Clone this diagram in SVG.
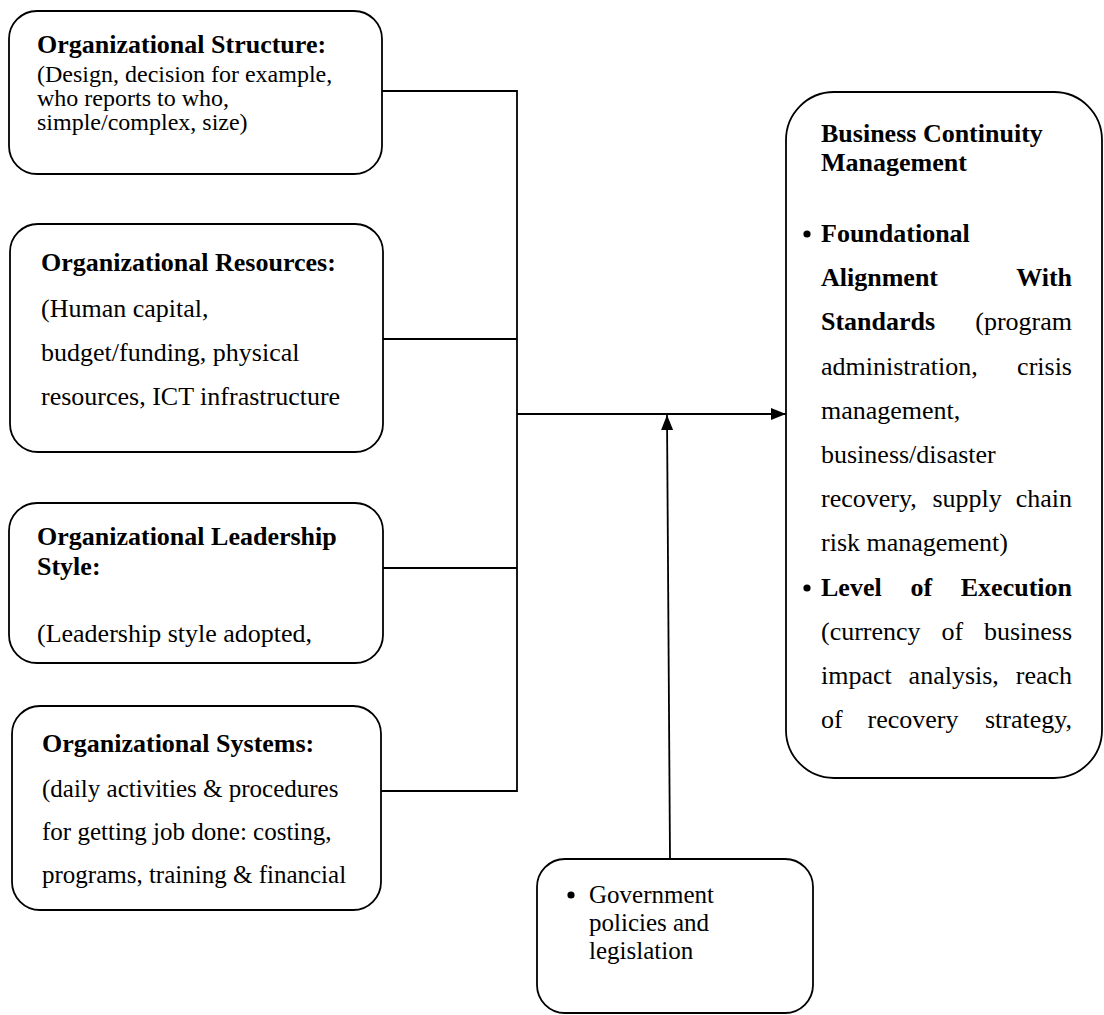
<svg xmlns="http://www.w3.org/2000/svg" width="1104" height="1015" viewBox="0 0 1104 1015">
<style>
.box{fill:#fff;stroke:#000;stroke-width:1.8}
.ln{stroke:#000;stroke-width:1.8;fill:none}
.dot{fill:#000}
text{font-family:"Liberation Serif","Times New Roman",serif;fill:#000;font-size:26px}
.b{font-weight:bold}
.s1{font-size:24px}
.s4{font-size:25px}
.g{font-size:25px}
.e{text-anchor:end}
</style>
<defs>
<marker id="ah" viewBox="0 0 15 12" refX="15" refY="6" markerWidth="15" markerHeight="12" markerUnits="userSpaceOnUse" orient="auto">
<path d="M0,0 L15,6 L0,12 Z" fill="#000"/>
</marker>
</defs>
<rect width="1104" height="1015" fill="#fff"/>

<g id="connectors">
<line class="ln" x1="382" y1="91" x2="517" y2="91"/>
<line class="ln" x1="383" y1="339" x2="517" y2="339"/>
<line class="ln" x1="383" y1="568" x2="517" y2="568"/>
<line class="ln" x1="381" y1="791" x2="517" y2="791"/>
<line class="ln" x1="517" y1="90" x2="517" y2="792"/>
<line class="ln" x1="517" y1="414" x2="786" y2="414" marker-end="url(#ah)"/>
<line class="ln" x1="670" y1="859" x2="667" y2="415" marker-end="url(#ah)"/>
</g>

<g id="structure">
<rect class="box" x="9" y="11" width="373" height="163" rx="28" ry="28"/>
<text class="b" x="37" y="53">Organizational Structure:</text>
<text class="s1" x="37" y="82">(Design, decision for example,</text>
<text class="s1" x="37" y="106">who reports to who,</text>
<text class="s1" x="37" y="130">simple/complex, size)</text>
</g>

<g id="resources">
<rect class="box" x="10" y="224" width="373" height="228" rx="28" ry="28"/>
<text class="b" x="41" y="271">Organizational Resources:</text>
<text x="41" y="317">(Human capital,</text>
<text x="41" y="361">budget/funding, physical</text>
<text x="41" y="405">resources, ICT infrastructure</text>
</g>

<g id="leadership">
<rect class="box" x="9" y="503" width="374" height="160" rx="28" ry="28"/>
<text class="b" x="37" y="545">Organizational Leadership</text>
<text class="b" x="37" y="575">Style:</text>
<text x="37" y="642">(Leadership style adopted,</text>
</g>

<g id="systems">
<rect class="box" x="12" y="706" width="369" height="204" rx="28" ry="28"/>
<text class="b" x="42" y="752">Organizational Systems:</text>
<text class="s4" x="42" y="797">(daily activities &amp; procedures</text>
<text class="s4" x="42" y="840">for getting job done:  costing,</text>
<text class="s4" x="42" y="883">programs, training &amp; financial</text>
</g>

<g id="bcm">
<rect class="box" x="786" y="92" width="316" height="686" rx="48" ry="48"/>
<text class="b" x="821" y="142">Business Continuity</text>
<text class="b" x="821" y="171">Management</text>
<circle class="dot" cx="807" cy="234" r="3.6"/>
<text class="b" x="821" y="242">Foundational</text>
<text class="b" x="821" y="286">Alignment</text>
<text class="b e" x="1072" y="286">With</text>
<text class="b" x="821" y="330">Standards</text>
<text class="e" x="1072" y="330">(program</text>
<text x="821" y="375">administration,</text>
<text class="e" x="1072" y="375">crisis</text>
<text x="821" y="419">management,</text>
<text x="821" y="463">business/disaster</text>
<text x="821" y="507">recovery,</text>
<text x="932.4" y="507">supply</text>
<text class="e" x="1072" y="507">chain</text>
<text x="821" y="551">risk management)</text>
<circle class="dot" cx="807" cy="588" r="3.6"/>
<text class="b" x="821" y="596">Level</text>
<text class="b" x="910.4" y="596">of</text>
<text class="b e" x="1072" y="596">Execution</text>
<text x="821" y="640">(currency</text>
<text x="941.4" y="640">of</text>
<text class="e" x="1072" y="640">business</text>
<text x="821" y="684">impact</text>
<text x="908.6" y="684">analysis,</text>
<text class="e" x="1072" y="684">reach</text>
<text x="821" y="728">of</text>
<text x="867.5" y="728">recovery</text>
<text class="e" x="1072" y="728">strategy,</text>
</g>

<g id="government">
<rect class="box" x="537" y="859" width="276" height="154" rx="28" ry="28"/>
<circle class="dot" cx="571" cy="895" r="3.6"/>
<text class="g" x="589" y="903">Government</text>
<text class="g" x="589" y="931">policies and</text>
<text class="g" x="589" y="959">legislation</text>
</g>
</svg>
